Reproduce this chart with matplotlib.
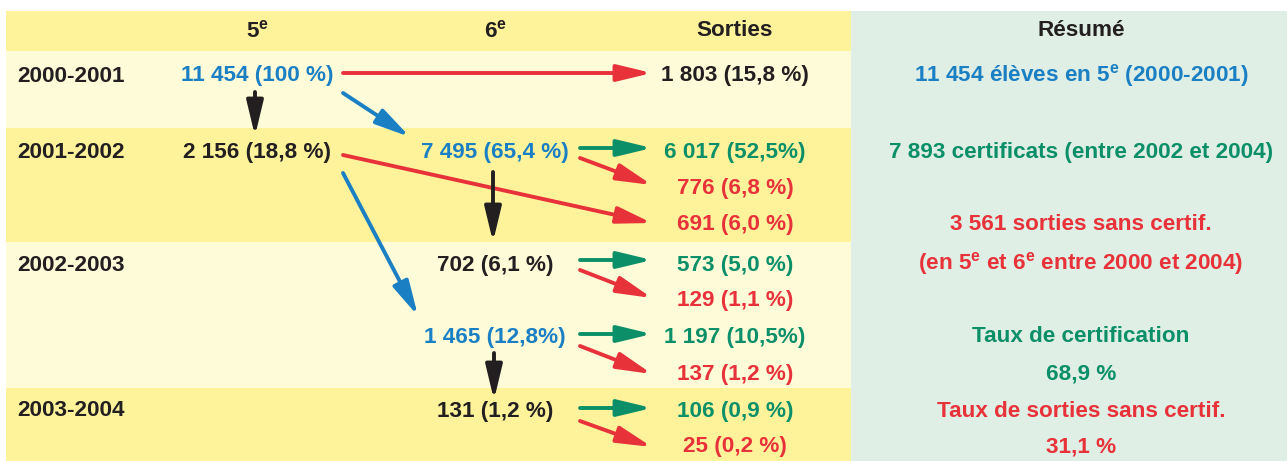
import matplotlib.pyplot as plt
from matplotlib.patches import Rectangle, FancyArrowPatch

plt.rcParams['font.family'] = ['Liberation Sans', 'DejaVu Sans']
plt.rcParams['mathtext.default'] = 'regular'

BLUE = '#1a7fc3'
GREEN = '#0b8f68'
RED = '#e8323a'
BLACK = '#231f20'
YELLOW = '#fef39b'
LIGHT = '#fefbd9'
SUMMARY = '#e0efe5'

# data
headers = ['5$^{e}$', '6$^{e}$', 'Sorties', 'Résumé']
years = ['2000-2001', '2001-2002', '2002-2003', '2003-2004']

# (label, colour key) for each node
cinquieme = [('11 454 (100 %)', 'b'), ('2 156 (18,8 %)', 'k')]
sixieme = [('7 495 (65,4 %)', 'b'), ('702 (6,1 %)', 'k'),
           ('1 465 (12,8%)', 'b'), ('131 (1,2 %)', 'k')]
sorties = [('1 803 (15,8 %)', 'k'), ('6 017 (52,5%)', 'g'), ('776 (6,8 %)', 'r'),
           ('691 (6,0 %)', 'r'), ('573 (5,0 %)', 'g'), ('129 (1,1 %)', 'r'),
           ('1 197 (10,5%)', 'g'), ('137 (1,2 %)', 'r'), ('106 (0,9 %)', 'g'),
           ('25 (0,2 %)', 'r')]
resume = [('11 454 élèves en 5$^{e}$ (2000-2001)', 'b'),
          ('7 893 certificats (entre 2002 et 2004)', 'g'),
          ('3 561 sorties sans certif.', 'r'),
          ('(en 5$^{e}$ et 6$^{e}$ entre 2000 et 2004)', 'r'),
          ('Taux de certification', 'g'), ('68,9 %', 'g'),
          ('Taux de sorties sans certif.', 'r'), ('31,1 %', 'r')]

# layout (pixels)
col_x = [257, 495, 735, 1081]
header_y = 31
year_y = [76, 152, 265, 410]
row_bands = [(11, 51, YELLOW), (51, 128, LIGHT), (128, 242, YELLOW),
             (242, 388, LIGHT), (388, 461, YELLOW)]
cinq_y = [76, 152]
six_y = [152, 265, 337, 411]
sort_y = [76, 152, 188, 224, 265, 300, 337, 374, 411, 446]
res_y = [76, 152, 224, 263, 336, 374, 411, 447]

# arrows: (x0, y0, x1, y1, colour)
arrows = [
    (343, 73, 652, 73, 'r'),
    (255, 92, 255, 136, 'k'),
    (343, 93, 410, 137, 'b'),
    (343, 155, 652, 223, 'r'),
    (343, 173, 418, 316, 'b'),
    (580, 148, 652, 148, 'g'),
    (580, 158, 652, 185, 'r'),
    (493, 172, 493, 242, 'k'),
    (580, 260, 652, 260, 'g'),
    (580, 270, 652, 298, 'r'),
    (580, 334, 652, 334, 'g'),
    (580, 346, 652, 374, 'r'),
    (494, 353, 494, 400, 'k'),
    (580, 408, 652, 408, 'g'),
    (580, 421, 652, 447, 'r'),
]

colours = {'b': BLUE, 'g': GREEN, 'r': RED, 'k': BLACK}

fig = plt.figure(figsize=(12.87, 4.61), dpi=100)
ax = fig.add_axes([0, 0, 1, 1])
ax.set_xlim(0, 1287)
ax.set_ylim(461, 0)
ax.axis('off')

for y0, y1, c in row_bands:
    ax.add_patch(Rectangle((6, y0), 851 - 6, y1 - y0, color=c, lw=0))
ax.add_patch(Rectangle((851, 11), 1287 - 851, 461 - 11, color=SUMMARY, lw=0))

fs = 16.2
kw = dict(fontsize=fs, fontweight='bold', va='center')

for x, h in zip(col_x, headers):
    ax.text(x, header_y, h, ha='center', color=BLACK, **kw)
for y, yr in zip(year_y, years):
    ax.text(17, y, yr, ha='left', color=BLACK, **kw)
for y, (lab, c) in zip(cinq_y, cinquieme):
    ax.text(col_x[0], y, lab, ha='center', color=colours[c], **kw)
for y, (lab, c) in zip(six_y, sixieme):
    ax.text(col_x[1], y, lab, ha='center', color=colours[c], **kw)
for y, (lab, c) in zip(sort_y, sorties):
    ax.text(col_x[2], y, lab, ha='center', color=colours[c], **kw)
for y, (lab, c) in zip(res_y, resume):
    ax.text(col_x[3], y, lab, ha='center', color=colours[c], **kw)

for x0, y0, x1, y1, c in arrows:
    ax.add_patch(FancyArrowPatch((x0, y0), (x1, y1),
                                 arrowstyle='-|>,head_length=1.75,head_width=0.42',
                                 mutation_scale=12, color=colours[c], lw=2.8,
                                 shrinkA=0, shrinkB=0))

fig.savefig('out.png', dpi=100)
